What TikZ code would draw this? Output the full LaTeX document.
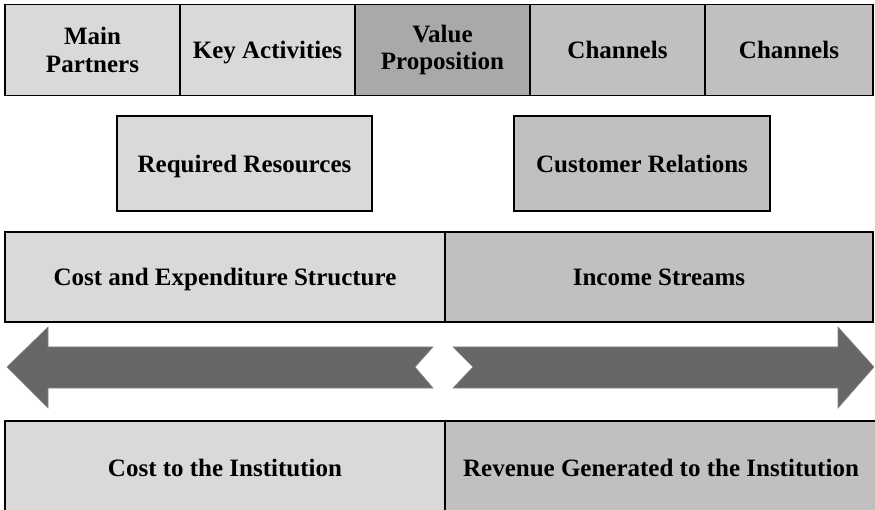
\documentclass[tikz,border=0pt]{standalone}
\usepackage{fontspec}
\setmainfont{Liberation Serif}
\definecolor{lightcell}{HTML}{D9D9D9}
\definecolor{midcell}{HTML}{C0C0C0}
\definecolor{darkcell}{HTML}{A9A9A9}
\definecolor{arrowgray}{HTML}{666666}
\begin{document}
\begin{tikzpicture}[x=1pt,y=-1pt,
  cell/.style={draw=black, line width=1.6pt, inner sep=0pt, align=center,
    font=\fontsize{25}{27.5}\selectfont\bfseries},
  oneline/.style={cell, text height=18pt, text depth=0pt},
  bigarrow/.style={fill=arrowgray, draw=arrowgray!80, line width=0.6pt}]
\useasboundingbox (0,0) rectangle (875,510);

% top row of the canvas
\node[cell, fill=lightcell, minimum width=175pt, minimum height=91pt] (partners) at (92.5,50) {Main\\Partners};
\node[oneline, fill=lightcell, minimum width=175pt, minimum height=91pt] (activities) at (267.5,50) {Key Activities};
\node[cell, fill=darkcell, minimum width=175pt, minimum height=91pt] (value) at (442.5,50) {Value\\Proposition};
\node[oneline, fill=midcell, minimum width=175pt, minimum height=91pt] (channels1) at (617.5,50) {Channels};
\node[oneline, fill=midcell, minimum width=168pt, minimum height=91pt] (channels2) at (789,50) {Channels};

% second row
\node[oneline, fill=lightcell, minimum width=255pt, minimum height=95pt] (resources) at (244.5,163.5) {Required Resources};
\node[oneline, fill=midcell, minimum width=256pt, minimum height=95pt] (relations) at (642,163.5) {Customer Relations};

% cost and income row
\node[oneline, fill=lightcell, minimum width=440pt, minimum height=90pt] (cost) at (225,277) {Cost and Expenditure Structure};
\node[oneline, fill=midcell, minimum width=428pt, minimum height=90pt] (income) at (659,277) {Income Streams};

% opposing arrows
\draw[bigarrow] (7,367) -- (48,327) -- (48,347) -- (433,347) -- (415,367)
  -- (433,388) -- (48,388) -- (48,408) -- cycle;
\draw[bigarrow] (453,347) -- (838,347) -- (838,327) -- (874,367) -- (838,408)
  -- (838,388) -- (453,388) -- (473,367) -- cycle;

% bottom row
\node[oneline, fill=lightcell, minimum width=440pt, minimum height=92pt] (costinst) at (225,467) {Cost to the Institution};
\node[oneline, fill=midcell, minimum width=432pt, minimum height=92pt] (revenue) at (661,467) {Revenue Generated to the Institution};
\end{tikzpicture}
\end{document}
